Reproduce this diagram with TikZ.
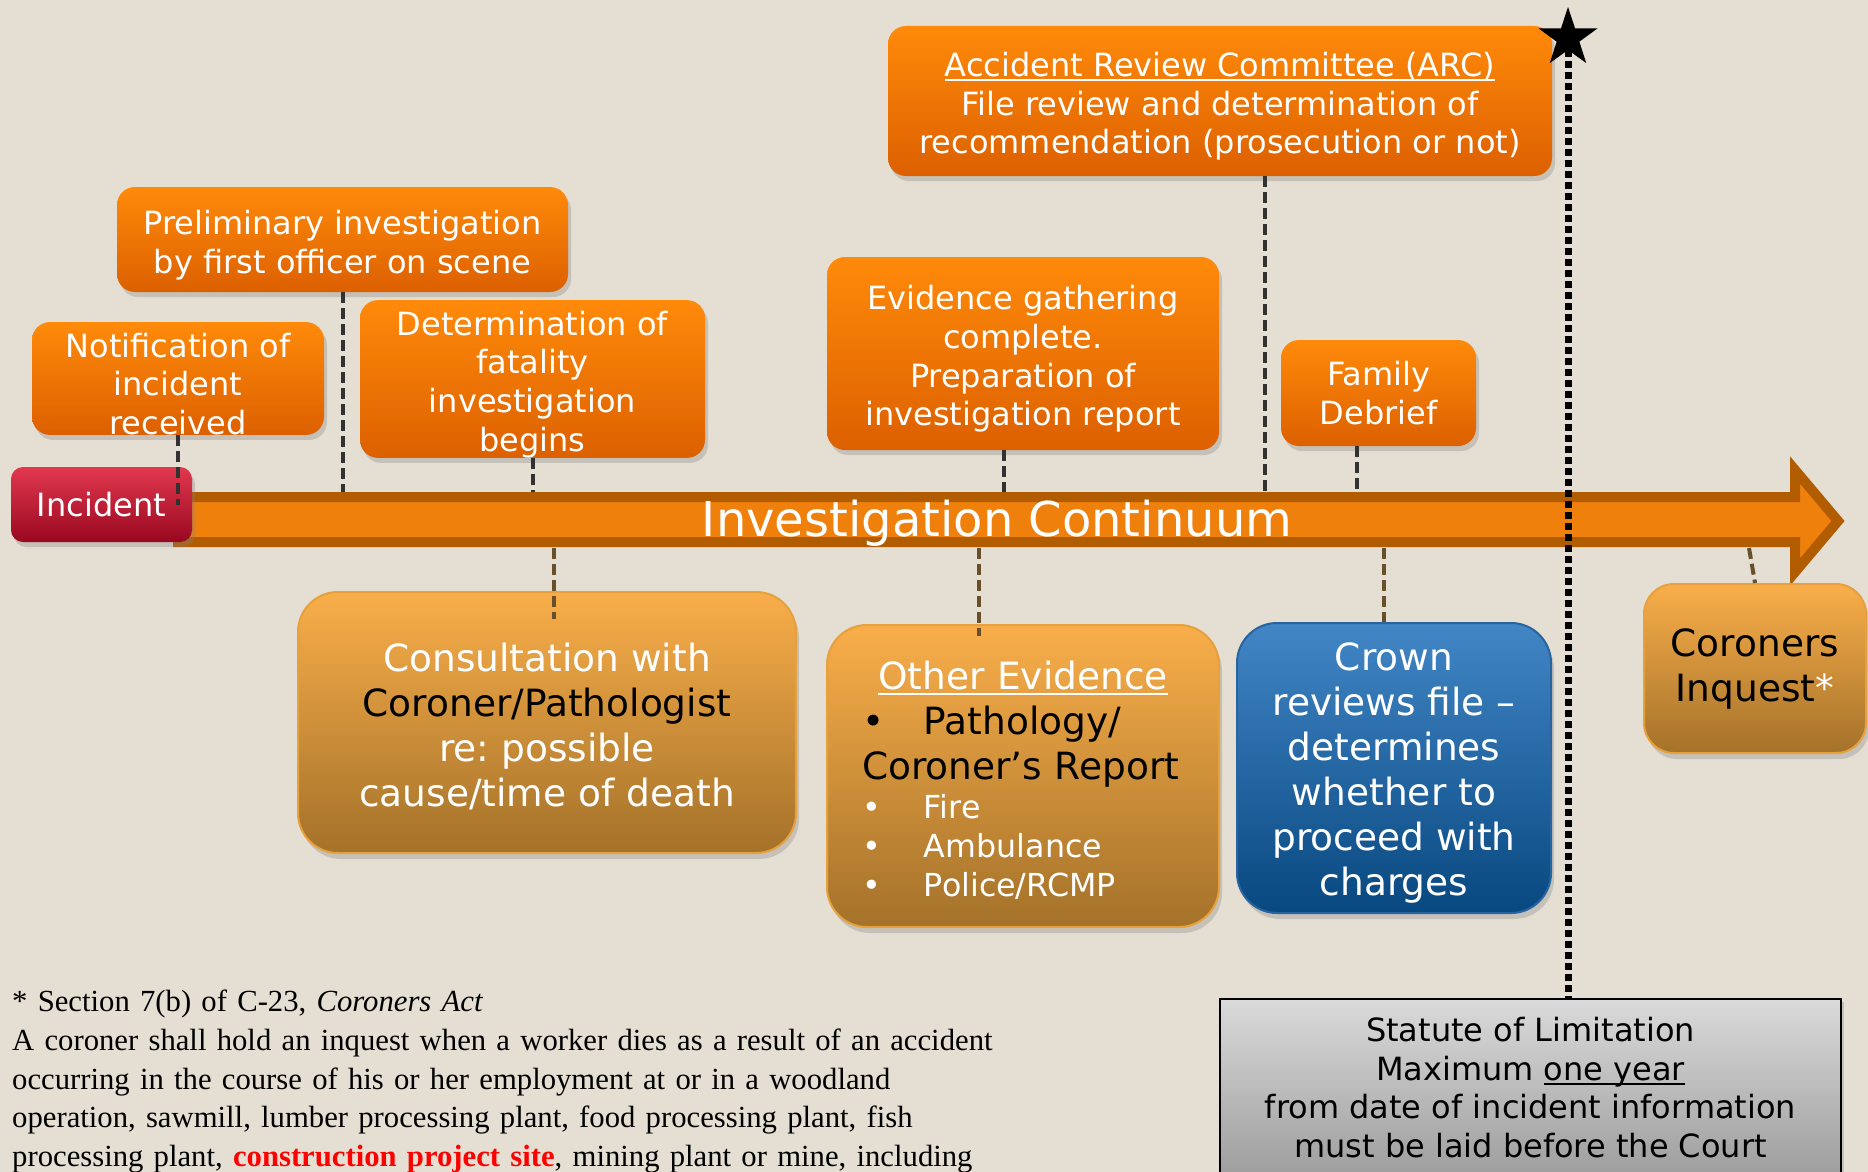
\documentclass[tikz,border=0pt]{standalone}
\usepackage{fontspec}
\setmainfont{DejaVu Sans}
\newfontfamily\notefont{Liberation Serif}
\usetikzlibrary{shapes.geometric,shadows}
\definecolor{bgcol}{RGB}{228,222,211}
\definecolor{orangetop}{RGB}{255,138,10}
\definecolor{orangebot}{RGB}{220,96,0}
\definecolor{redtop}{RGB}{226,56,78}
\definecolor{redbot}{RGB}{152,8,32}
\definecolor{tantop}{RGB}{249,174,74}
\definecolor{tanbot}{RGB}{164,114,42}
\definecolor{tanedge}{RGB}{230,160,60}
\definecolor{bluetop}{RGB}{66,134,198}
\definecolor{bluebot}{RGB}{8,72,128}
\definecolor{blueedge}{RGB}{40,100,160}
\definecolor{arrowfill}{RGB}{240,128,12}
\definecolor{arrowedge}{RGB}{178,92,0}
\definecolor{dashgray}{RGB}{50,50,50}
\definecolor{dashbrown}{RGB}{105,80,45}
\definecolor{greytop}{RGB}{218,218,218}
\definecolor{greybot}{RGB}{150,150,150}
\newcommand\topsize{\fontsize{32}{38.7}\selectfont}
\newcommand\bigsize{\fontsize{37.5}{45}\selectfont}
\newcommand\itemsize{\fontsize{31.7}{39}\selectfont}
\newcommand\bul[1]{\makebox[62pt][l]{\textbullet}#1}
\newcommand\uln[1]{\setbox0\hbox{#1}\rlap{\rule[-5pt]{\wd0}{2pt}}\box0}
\newcommand\lift{\rule{0pt}{35pt}}
\newcommand\liftb{\rule{0pt}{36pt}}
\frenchspacing

\begin{document}
\begin{tikzpicture}[x=1pt, y=-1pt,
        stepbox/.style={rounded corners=18pt, top color=orangetop, bottom color=orangebot, text=white, font=\topsize, align=center, inner sep=0pt,
        drop shadow={opacity=0.3, shadow xshift=3pt, shadow yshift=-5pt}},
        incbox/.style={stepbox, top color=redtop, bottom color=redbot, rounded corners=12pt},
        tanbox/.style={rounded corners=40pt, top color=tantop, bottom color=tanbot, draw=tanedge, line width=2pt, text=white, font=\bigsize, align=center, inner sep=0pt,
        drop shadow={opacity=0.3, shadow xshift=3pt, shadow yshift=-6pt}},
        crownbox/.style={tanbox, top color=bluetop, bottom color=bluebot, draw=blueedge},
        limitbox/.style={rectangle, top color=greytop, bottom color=greybot, draw=black, line width=2pt, drop shadow={opacity=0.3}},
        updash/.style={dashgray, line width=4pt, dash pattern=on 11pt off 5pt},
        downdash/.style={updash, dashbrown},
        limitline/.style={line width=7pt, dash pattern=on 7pt off 4pt}]
    \useasboundingbox (0,0) rectangle (1868,1172);
    \fill[bgcol] (0,0) rectangle (1868,1172);
    \coordinate (shafttop) at (178,492);
    \coordinate (shaftbot) at (178,548);
    \draw[arrowedge, fill=arrowfill, line width=10pt, line join=miter] (178,497) -- (1795,497) -- (1795,470) -- (1838,521) -- (1795,572) -- (1795,542) -- (178,542) -- cycle;
    \node[text=white, font=\fontsize{48}{58}\selectfont] (continuum) at (997,523) {Investigation Continuum};

    \node[stepbox, minimum width=664pt, minimum height=150pt] (arc) at (1220,101) {\lift\uln{Accident Review Committee (ARC)}\\File review and determination of\\recommendation (prosecution or not)};
    \node[stepbox, minimum width=451pt, minimum height=105pt] (prelim) at (342.5,239.5) {\lift Preliminary investigation\\by first officer on scene};
    \node[stepbox, minimum width=292pt, minimum height=107pt] (notify) at (178,378.5) {\lift Notification of\\incident\\received};
    \node[stepbox, minimum width=345pt, minimum height=150pt] (determ) at (532.5,379) {\lift Determination of\\fatality\\investigation\\begins};
    \node[stepbox, minimum width=392pt, minimum height=193pt] (gather) at (1023,353.5) {\lift Evidence gathering\\complete.\\Preparation of\\investigation report};
    \node[stepbox, minimum width=195pt, minimum height=106pt] (debrief) at (1378.5,393) {Family\\Debrief};
    \node[incbox, minimum width=181pt, minimum height=75pt] (incident) at (101.5,504.5) {Incident};

    \node[tanbox, minimum width=498pt, minimum height=261pt] (consult) at (547,722.5) {\liftb Consultation with\\\textcolor{black}{Coroner/Pathologist}\\re: possible\\cause/time of death};
    \node[tanbox, minimum width=392pt, minimum height=302pt, text width=322pt, align=left] (other) at (1023,776) {%
        {\centering\rule{0pt}{37pt}\uln{Other Evidence}\par}
        {\color{black}\bul{Pathology/}\\Coroner’s Report\par}
        {\itemsize\bul{Fire}\\\bul{Ambulance}\\\bul{Police/RCMP}\par}};
    \node[crownbox, minimum width=314pt, minimum height=290pt] (crown) at (1394,768) {\rule{0pt}{38pt}Crown\\reviews file –\\determines\\whether to\\proceed with\\charges};
    \node[tanbox, rounded corners=30pt, text=black, minimum width=222pt, minimum height=169pt] (inquest) at (1755,668.5) {Coroners\\Inquest\textcolor{white}{*}};

    \node[limitbox, minimum width=621pt, minimum height=200pt, anchor=north] (statute) at (1530.5,998) {};
    \node[font=\topsize, align=center, anchor=north, inner sep=0pt] (statutetext) at (1530.5,1017) {Statute of Limitation\\Maximum \uln{one year}\\from date of incident information\\must be laid before the Court};

    \draw[updash] (notify.south) -- (notify.south |- incident.center);
    \draw[updash] (prelim.south) -- (prelim.south |- shafttop);
    \draw[updash] (determ.south) -- (determ.south |- shafttop);
    \draw[updash] ([xshift=-19pt]gather.south) -- ([xshift=-19pt]gather.south |- shafttop);
    \draw[updash] ([xshift=45pt]arc.south) -- ([xshift=45pt]arc.south |- shafttop);
    \draw[updash] ([xshift=-22pt]debrief.south) -- ([xshift=-22pt]debrief.south |- shafttop);
    \draw[downdash] ([xshift=7pt]consult.north |- shaftbot) -- ([xshift=7pt, yshift=-28pt]consult.north);
    \draw[downdash] ([xshift=-44pt]other.north |- shaftbot) -- ([xshift=-44pt, yshift=-12pt]other.north);
    \draw[downdash] ([xshift=-10pt]crown.north |- shaftbot) -- ([xshift=-10pt]crown.north);
    \draw[downdash] ([xshift=-6pt]inquest.north |- shaftbot) -- (inquest.north);

    \node[star, star points=5, star point ratio=2.6, fill=black, minimum size=62pt, inner sep=0pt] (star) at (1568,38) {};
    \draw[limitline] (star.south) -- (star.south |- statute.north);

    \node[anchor=north west, inner sep=0pt, text width=1100pt, align=left, font=\notefont\fontsize{30.7}{38.7}\selectfont] (note) at (12,990) {* Section 7(b) of C-23, \textit{Coroners Act}\\A coroner shall hold an inquest when a worker dies as a result of an accident\\occurring in the course of his or her employment at or in a woodland\\operation, sawmill, lumber processing plant, food processing plant, fish\\processing plant, \textcolor{red}{\textbf{construction project site}}, mining plant or mine, including};
\end{tikzpicture}
\end{document}
